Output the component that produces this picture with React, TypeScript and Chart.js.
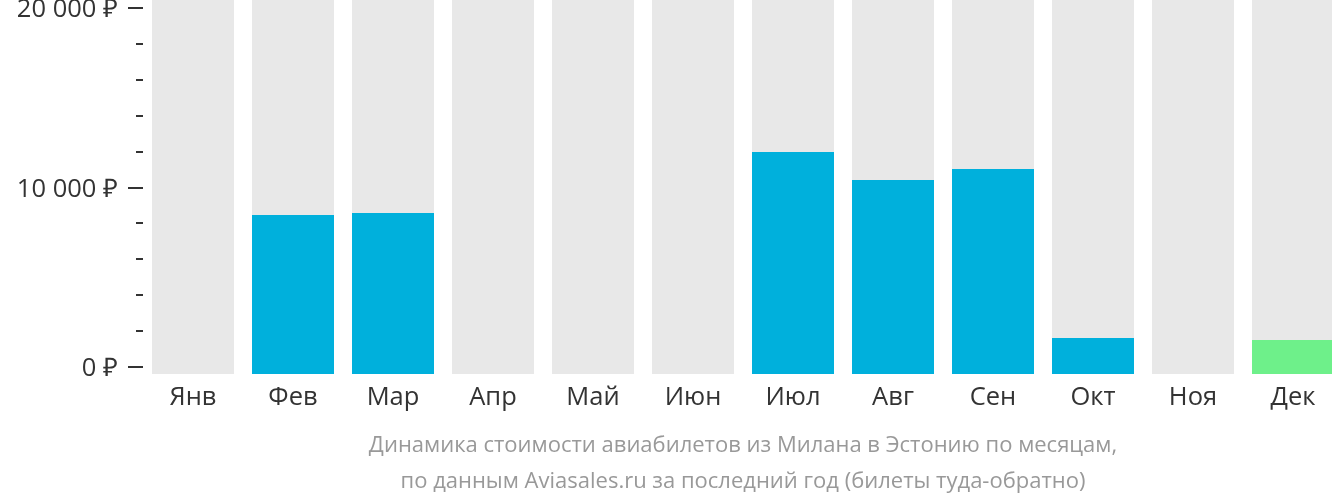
import React, { useEffect, useRef } from "react";
import { Chart, registerables } from "chart.js";

Chart.register(...registerables);

const MONTHS = ["Янв", "Фев", "Мар", "Апр", "Май", "Июн", "Июл", "Авг", "Сен", "Окт", "Ноя", "Дек"];
const PRICES: (number | null)[] = [null, 8470, 8580, null, null, null, 11980, 10420, 11030, 1620, null, 1500];
const CHEAPEST_INDEX = 11;
const Y_MIN = -390;
const Y_MAX = 20446;
const TICK_VALUES = [0, 2000, 4000, 6000, 8000, 10000, 12000, 14000, 16000, 18000, 20000];
const MAJOR_STEP = 10000;
const CAPTION = [
  "Динамика стоимости авиабилетов из Милана в Эстонию по месяцам,",
  "по данным Aviasales.ru за последний год (билеты туда-обратно)",
];

const BLUE = "#00b0dc";
const GREEN = "#6ef08a";
const GRAY = "#e8e8e8";

function fmt(v: number): string {
  const s = String(Math.round(v));
  return s.replace(/\B(?=(\d{3})+(?!\d))/g, " ") + " ₽";
}

const tickMarks = {
  id: "tickMarks",
  afterDraw(chart: any) {
    const { ctx, chartArea, scales } = chart;
    const y = scales.y;
    ctx.save();
    ctx.strokeStyle = "#333333";
    ctx.lineWidth = 2;
    TICK_VALUES.forEach((v) => {
      const py = Math.round(y.getPixelForValue(v));
      const len = v % MAJOR_STEP === 0 ? 15 : 7;
      ctx.beginPath();
      ctx.moveTo(chartArea.left - len, py);
      ctx.lineTo(chartArea.left, py);
      ctx.stroke();
    });
    ctx.restore();
  },
};

export default function App() {
  const ref = useRef<HTMLCanvasElement | null>(null);
  useEffect(() => {
    if (!ref.current) return;
    const chart = new Chart(ref.current, {
      type: "bar",
      data: {
        labels: MONTHS,
        datasets: [
          {
            data: PRICES.map((p) => (p == null ? null : [Y_MIN, p])) as any,
            backgroundColor: PRICES.map((_, i) => (i === CHEAPEST_INDEX ? GREEN : BLUE)),
            grouped: false,
            order: 1,
            barPercentage: 0.82,
            categoryPercentage: 1,
          } as any,
          {
            data: MONTHS.map(() => [Y_MIN, Y_MAX]) as any,
            backgroundColor: GRAY,
            grouped: false,
            order: 2,
            barPercentage: 0.82,
            categoryPercentage: 1,
          } as any,
        ],
      },
      options: {
        responsive: false,
        animation: false,
        layout: { padding: { left: 0, right: 7, top: 0, bottom: 0 } },
        plugins: {
          legend: { display: false },
          tooltip: { enabled: false },
          title: {
            display: true,
            position: "bottom",
            fullSize: false,
            text: CAPTION,
            color: "#999999",
            font: { family: "'Open Sans'", size: 22, weight: "normal", lineHeight: "36px" as any },
            padding: { top: 0, bottom: 2 },
          },
        },
        scales: {
          x: {
            grid: { display: false, drawTicks: false },
            border: { display: false },
            ticks: {
              color: "#333333",
              font: { family: "'Open Sans'", size: 25.5 },
              padding: 8,
            },
            afterFit(scale: any) {
              scale.height = 54;
              scale.paddingLeft = 0;
              scale.paddingRight = 0;
            },
          },
          y: {
            min: Y_MIN,
            max: Y_MAX,
            grid: { display: false, drawTicks: false },
            border: { display: false },
            afterBuildTicks(scale: any) {
              scale.ticks = TICK_VALUES.map((v) => ({ value: v }));
            },
            ticks: {
              color: "#333333",
              font: { family: "'Open Sans'", size: 25.5 },
              padding: 25,
              labelOffset: 2,
              autoSkip: false,
              callback: (v: any) => (Number(v) % MAJOR_STEP === 0 ? fmt(Number(v)) : ""),
            },
            afterFit(scale: any) {
              scale.width = 143;
              scale.paddingTop = 0;
              scale.paddingBottom = 0;
            },
          },
        },
      },
      plugins: [tickMarks],
    });
    return () => chart.destroy();
  }, []);
  return (
    <div style={{ position: "absolute", left: 0, top: 0, width: 1332, height: 502, overflow: "hidden", background: "#fff" }}>
      <canvas ref={ref} width={1350} height={502} style={{ display: "block" }} />
    </div>
  );
}
